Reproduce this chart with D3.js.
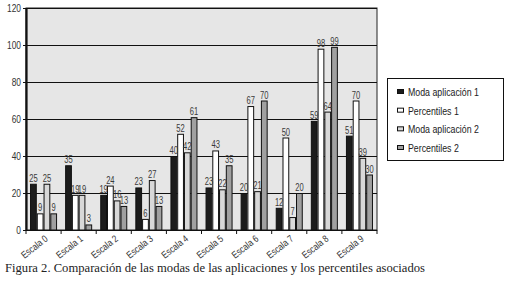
<!DOCTYPE html>
<html><head><meta charset="utf-8">
<script src="https://cdn.jsdelivr.net/npm/d3@7"></script>
<style>
html,body{margin:0;padding:0;background:#fff;}
svg{display:block;}
</style></head>
<body>
<svg id="c" width="505" height="281"></svg>
<script>
const categories = ["Escala 0","Escala 1","Escala 2","Escala 3","Escala 4","Escala 5","Escala 6","Escala 7","Escala 8","Escala 9"];
const seriesNames = ["Moda aplicación 1","Percentiles 1","Moda aplicación 2","Percentiles 2"];
const modaAplicacion1 = [25,35,19,23,40,23,20,12,59,51];
const percentiles1    = [9,19,24,6,52,43,67,50,98,70];
const modaAplicacion2 = [25,19,16,27,42,22,21,7,64,39];
const percentiles2    = [9,3,13,13,61,35,70,20,99,30];
const yTicks = [0,20,40,60,80,100,120];
const colors = ["#1c1c1c","#ffffff","#d8d8d8","#a0a0a0"];
const caption = "Figura 2. Comparación de las modas de las aplicaciones y los percentiles asociados";

const series = [modaAplicacion1, percentiles1, modaAplicacion2, percentiles2];
const svg = d3.select("#c");
const L = 26, R = 377, T = 8, B = 230;
const font = "'Liberation Sans',Arial,sans-serif";
const SX = 0.8; // horizontal condensing to imitate the narrow font

const x = d3.scaleBand().domain(categories).range([L, R]).paddingInner(0.23).paddingOuter(0.115);
const xOuter = d3.scaleBand().domain(categories).range([L, R]);
const xs = d3.scaleBand().domain(d3.range(4)).range([0, x.bandwidth()]);
const y = d3.scaleLinear().domain([0,120]).range([B, T]);

function ctext(sel, px, py, str, size, anchor, fill, rot, sx) {
  return sel.append("text")
    .attr("transform", `translate(${px},${py})` + (rot ? ` rotate(${rot})` : "") + ` scale(${sx || SX},1)`)
    .attr("text-anchor", anchor)
    .attr("font-family", font).attr("font-size", size)
    .attr("fill", fill).text(str);
}

// plot background
svg.append("rect").attr("x", L).attr("y", T).attr("width", R-L).attr("height", B-T)
  .attr("fill", "#e6e6e6").attr("stroke", "#222").attr("stroke-width", 1);

// grid
svg.append("g").selectAll("line").data(yTicks.filter(d=>d>0)).join("line")
  .attr("x1", L).attr("x2", R).attr("y1", d=>y(d)+0.5).attr("y2", d=>y(d)+0.5)
  .attr("stroke", "#111").attr("stroke-width", 1);

// bars
const groups = svg.append("g").selectAll("g").data(categories).join("g")
  .attr("transform", d => `translate(${x(d)},0)`);
groups.each(function(cat, ci){
  const g = d3.select(this);
  series.forEach((s, si) => {
    const v = s[ci];
    g.append("rect")
      .attr("x", xs(si)+0.5).attr("y", y(v)+0.5)
      .attr("width", xs.bandwidth()-1).attr("height", Math.max(0, B - y(v) - 0.5))
      .attr("fill", colors[si]).attr("stroke", "#111").attr("stroke-width", 1);
  });
  series.forEach((s, si) => {
    const v = s[ci];
    ctext(g, xs(si)+xs.bandwidth()/2, y(v)-2, v, 10, "middle", "#3a3a3a", 0, 0.76);
  });
});

// y axis
const yAxis = d3.axisLeft(y).tickValues(yTicks).tickSize(3).tickSizeOuter(0).tickFormat("");
const ya = svg.append("g").attr("transform", `translate(${L},0)`).call(yAxis);
ya.select(".domain").attr("stroke", "#111").attr("stroke-width", 2.2);
ya.selectAll(".tick line").attr("stroke", "#111");
yTicks.forEach(t => ctext(svg, L-5, y(t)+3.5, t, 10.5, "end", "#333"));

// x axis baseline & ticks
const xa = svg.append("g");
xa.append("line").attr("x1", L).attr("x2", R).attr("y1", B+0.5).attr("y2", B+0.5).attr("stroke", "#111").attr("stroke-width", 1.2);
const tickPos = categories.map(c => xOuter(c)).concat([R]);
xa.selectAll("line.t").data(tickPos).join("line").attr("class","t")
  .attr("x1", d=>d).attr("x2", d=>d).attr("y1", B).attr("y2", B+4)
  .attr("stroke", "#111");
categories.forEach(c => {
  ctext(xa, xOuter(c)+xOuter.bandwidth()/2+5, B+10, c, 10, "end", "#333", -38);
});

// legend
const lg = svg.append("g");
lg.append("rect").attr("x", 387.5).attr("y", 78.5).attr("width", 116).attr("height", 82)
  .attr("fill", "#fff").attr("stroke", "#111").attr("stroke-width", 1);
const ly = d3.scalePoint().domain(seriesNames).range([92, 148]);
seriesNames.forEach((n, i) => {
  lg.append("rect").attr("x", 397.5).attr("y", ly(n)-2.5).attr("width", 6).attr("height", 4)
    .attr("fill", colors[i]).attr("stroke", "#111").attr("stroke-width", 1);
  ctext(lg, 408, ly(n)+4, n, 11, "start", "#222");
});

// caption
svg.append("text").attr("x", 5).attr("y", 272)
  .attr("font-family", "'Liberation Serif','DejaVu Serif',serif").attr("font-size", 11.5)
  .attr("fill", "#222").attr("textLength", 420).attr("lengthAdjust", "spacingAndGlyphs")
  .text(caption);
</script>
</body></html>
